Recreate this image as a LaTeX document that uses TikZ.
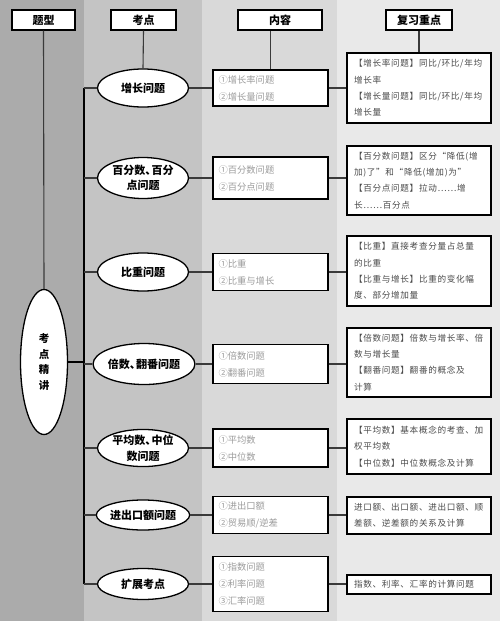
\documentclass[tikz,border=0pt]{standalone}
\usepackage{fontspec}
\setmainfont{Noto Sans CJK SC}
\newfontfamily\rvfont[LetterSpace=8]{Noto Sans CJK SC}
\newcommand{\dunh}{\makebox[0.55em][l]{、}}
\usetikzlibrary{shapes.geometric}
\definecolor{colA}{HTML}{ABABAB}
\definecolor{colB}{HTML}{C4C4C4}
\definecolor{colC}{HTML}{D9D9D9}
\definecolor{colD}{HTML}{E9E9E9}
\definecolor{ctext}{HTML}{9C9C9C}
\definecolor{rtext}{HTML}{4A4A4A}
\definecolor{lnk}{HTML}{3A3A3A}
\tikzset{
  hdr/.style={draw, fill=white, line width=1.3pt, inner sep=0pt, minimum height=20pt, font=\bfseries\fontsize{11}{13}\selectfont},
  topic/.style={ellipse, draw, fill=white, line width=1.3pt, inner sep=0pt, minimum width=91pt, minimum height=38pt, align=center, font=\bfseries\fontsize{11}{15.5}\selectfont},
  cbox/.style={draw, fill=white, line width=1.4pt, inner xsep=5.5pt, inner ysep=0pt, text width=104pt, align=left, text=ctext, font=\fontsize{9.3}{17}\selectfont},
  rbox/.style={draw, fill=white, line width=1.2pt, inner xsep=7pt, inner ysep=0pt, text width=130pt, align=left, text=rtext, font=\rvfont\fontsize{8.6}{16.3}\selectfont},
  link/.style={draw=lnk, line width=1.1pt},
  bus/.style={draw=black, line width=1.9pt}
}
\begin{document}
\begin{tikzpicture}[x=1pt,y=-1pt]
\fill[colA] (0,0) rectangle (84,621);
\fill[colB] (84,0) rectangle (202,621);
\fill[colC] (202,0) rectangle (337,621);
\fill[colD] (337,0) rectangle (500,621);
\useasboundingbox (0,0) rectangle (500,621);

% headers
\node[hdr, minimum width=63pt] (h1) at (43.5,20) {题型};
\node[hdr, minimum width=65pt] (h2) at (143.5,20) {考点};
\node[hdr, minimum width=84pt] (h3) at (280,20) {内容};
\node[hdr, minimum width=66pt] (h4) at (419,20) {复习重点};

% root
\node[ellipse, draw, fill=white, line width=1.3pt, inner sep=0pt, minimum width=47pt, minimum height=145pt, align=center, font=\bfseries\fontsize{10.5}{15.5}\selectfont] (root) at (44,362) {考\\点\\精\\讲};

% topics
\node[topic] (t1) at (143,88) {增长问题};
\node[topic, minimum height=41pt] (t2) at (143,178) {百分数\dunh 百分\\点问题};
\node[topic] (t3) at (143,272) {比重问题};
\node[topic, minimum width=93pt, minimum height=41pt] (t4) at (144,364) {倍数\dunh 翻番问题};
\node[topic, minimum height=34pt] (t5) at (143,448) {平均数\dunh 中位\\数问题};
\node[topic, minimum height=30pt] (t6) at (143,515) {进出口额问题};
\node[topic, minimum height=31pt] (t7) at (143,584) {扩展考点};

% content boxes
\node[cbox, minimum height=36pt] (c1) at (270.5,88) {①增长率问题\\②增长量问题};
\node[cbox, minimum height=42pt] (c2) at (270.5,178) {①百分数问题\\②百分点问题};
\node[cbox, minimum height=37pt] (c3) at (270.5,272) {①比重\\②比重与增长};
\node[cbox, minimum height=39pt] (c4) at (270.5,364) {①倍数问题\\②翻番问题};
\node[cbox, minimum height=38pt] (c5) at (270.5,448) {①平均数\\②中位数};
\node[cbox, minimum height=37pt] (c6) at (270.5,515) {①进出口额\\②贸易顺/逆差};
\node[cbox, minimum height=55pt] (c7) at (270.5,584) {①指数问题\\②利率问题\\③汇率问题};

% review boxes
\node[rbox, minimum height=70pt] (r1) at (419,88) {【增长率问题】同比/环比/年均\\增长率\\【增长量问题】同比/环比/年均\\增长量};
\node[rbox, minimum height=69pt] (r2) at (419,180.5) {【百分数问题】区分“降低(增\\加)了”和“降低(增加)为”\\【百分点问题】拉动……增\\长……百分点};
\node[rbox, minimum height=70pt] (r3) at (419,271) {【比重】直接考查分量占总量\\的比重\\【比重与增长】比重的变化幅\\度、部分增加量};
\node[rbox, minimum height=69pt] (r4) at (419,362.5) {【倍数问题】倍数与增长率、倍\\数与增长量\\【翻番问题】翻番的概念及\\计算};
\node[rbox, minimum height=55pt] (r5) at (419,446.5) {【平均数】基本概念的考查、加\\权平均数\\【中位数】中位数概念及计算};
\node[rbox, minimum height=37pt] (r6) at (419,515.5) {进口额、出口额、进出口额、顺\\差额、逆差额的关系及计算};
\node[rbox, minimum height=19pt] (r7) at (419,584.5) {指数、利率、汇率的计算问题};

% header links
\draw[link] (h1.south) -- (root.north);
\draw[link] (h2.south) -- (t1.north);
\draw[link] (c1.north) -- (c1.north |- h3.south);
\draw[link] (h4.south) -- (r1.north);

% bus
\coordinate (b1) at (84,88);
\coordinate (b7) at (84,584);
\draw[bus] (b1) -- (b7);
\draw[bus] (root.east) -- (root.east -| b1);
\foreach \i in {1,...,7} {
  \draw[link] (t\i.west -| b1) -- (t\i.west);
  \draw[link] (t\i.east) -- (t\i.east -| c\i.west);
  \draw[link] (c\i.east) -- (c\i.east -| r\i.west);
}
\end{tikzpicture}
\end{document}
